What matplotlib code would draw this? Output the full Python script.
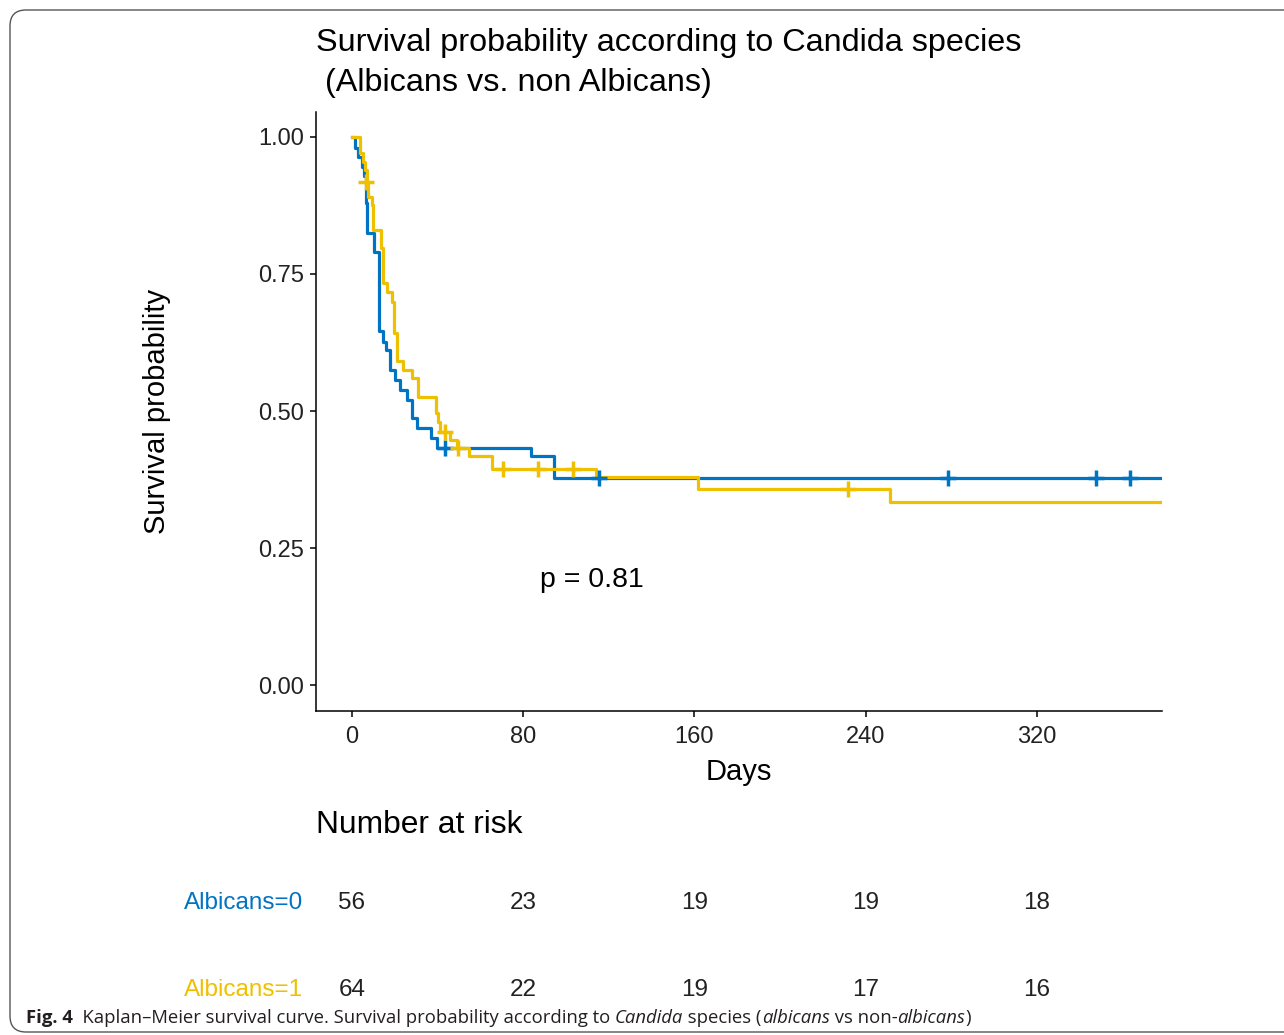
import matplotlib
matplotlib.use("Agg")
import matplotlib.pyplot as plt
import matplotlib.transforms as mtransforms
from matplotlib.patches import FancyBboxPatch
from matplotlib.text import Annotation

# Kaplan-Meier steps (days, survival)
alb0_times = [0, 1.5, 3, 4.5, 5.5, 6.5, 7, 10.3, 12.6, 14.3, 16, 18, 20, 22.4, 25.5,
              28.2, 30.4, 37, 39.5, 83.5, 94.5]
alb0_surv = [1.0, 0.98, 0.964, 0.946, 0.929, 0.88, 0.825, 0.79, 0.646, 0.626, 0.611,
             0.575, 0.557, 0.538, 0.52, 0.487, 0.469, 0.45, 0.432, 0.418, 0.377]
alb0_cens_t = [43.4, 115.5, 278.4, 347.6, 363.5]
alb0_cens_s = [0.432, 0.377, 0.377, 0.377, 0.377]

alb1_times = [0, 3.7, 5, 6, 6.9, 7.6, 9.2, 10, 13.4, 14.6, 16.2, 18.5, 19.8, 21.2, 23.7,
              27.9, 31, 39.1, 40, 41.3, 45.8, 49, 54.8, 65.3, 114, 161.7, 251.4]
alb1_surv = [1.0, 0.97, 0.955, 0.94, 0.918, 0.891, 0.876, 0.83, 0.797, 0.733, 0.718,
             0.699, 0.642, 0.592, 0.575, 0.56, 0.526, 0.496, 0.48, 0.462, 0.447, 0.432,
             0.417, 0.395, 0.38, 0.358, 0.334]
alb1_cens_t = [6.5, 43.4, 49.7, 70.7, 86.7, 103.4, 231.8]
alb1_cens_s = [0.918, 0.462, 0.432, 0.395, 0.395, 0.395, 0.358]

last_day = 378.4
risk_times = [0, 80, 160, 240, 320]
risk_alb0 = [56, 23, 19, 19, 18]
risk_alb1 = [64, 22, 19, 17, 16]

BLUE = "#0073C2"
YELLOW = "#EFC000"
INK = "#231f20"

plt.rcParams['font.family'] = ['Liberation Sans', 'DejaVu Sans']

W, H = 1284, 1035
fig = plt.figure(figsize=(W / 100, H / 100), dpi=100)


def fy(px):
    # figure fraction from a pixel row (text centred a touch lower than mpl does)
    return 1 - (px + 3) / H


# rounded frame of the journal figure, runs off the right edge
frame = FancyBboxPatch((10, 3), 1330, 1022, boxstyle="round,pad=0,rounding_size=16",
                       transform=None, fill=False, edgecolor="#555555", linewidth=1.0,
                       clip_on=False)
fig.add_artist(frame)

ax = fig.add_axes([316 / W, 1 - 711 / H, 846 / W, 599 / H])

ax.step(alb0_times + [last_day], alb0_surv + [alb0_surv[-1]], where='post', color=BLUE, lw=2.3)
ax.step(alb1_times + [last_day], alb1_surv + [alb1_surv[-1]], where='post', color=YELLOW, lw=2.3)
ax.plot(alb0_cens_t, alb0_cens_s, '+', color=BLUE, ms=12, mew=2.5)
ax.plot(alb1_cens_t, alb1_cens_s, '+', color=YELLOW, ms=12, mew=2.5)

ax.set_xlim(-16.8, last_day)
ax.set_ylim(-0.0474, 1.0456)
ax.set_xticks(risk_times)
ax.set_yticks([0, 0.25, 0.5, 0.75, 1.0])
ax.set_yticklabels(["0.00", "0.25", "0.50", "0.75", "1.00"])
for s in ["top", "right"]:
    ax.spines[s].set_visible(False)
for s in ["left", "bottom"]:
    ax.spines[s].set_linewidth(1.1)
ax.tick_params(axis='both', labelsize=17, length=4.5, width=1.1, labelcolor="#222222")
ax.tick_params(axis='x', pad=6)
ax.tick_params(axis='y', pad=4)

ax.text(87.8, 0.192, "p = 0.81", fontsize=20.5, va='center', ha='left')

fig.text(316 / W, fy(40), "Survival probability according to Candida species",
         fontsize=23.3, va='center', ha='left')
fig.text(316 / W, fy(80), " (Albicans vs. non Albicans)",
         fontsize=23.3, va='center', ha='left')

fig.text(157 / W, 1 - 411 / H, "Survival probability", rotation=90, fontsize=21,
         va='center', ha='center')
fig.text(739 / W, fy(769), "Days", fontsize=21, va='center', ha='center')

# number at risk table
fig.text(316 / W, fy(822), "Number at risk", fontsize=22.9, va='center', ha='left')
trans = mtransforms.blended_transform_factory(ax.transData, fig.transFigure)
rows = [("Albicans=0", risk_alb0, BLUE, 900), ("Albicans=1", risk_alb1, YELLOW, 987)]
for name, counts, col, ypx in rows:
    fig.text(303 / W, fy(ypx), name, color=col, fontsize=17.5, va='center', ha='right')
    for t, n in zip(risk_times, counts):
        fig.text(t, fy(ypx), str(n), transform=trans, fontsize=17.5,
                 va='center', ha='center', color="#222222")

# caption, chained so each piece starts where the previous one ended
pieces = [("  Kaplan\u2013Meier survival curve. Survival probability according to ", "normal"),
          ("Candida", "italic"),
          (" species (", "normal"),
          ("albicans", "italic"),
          (" vs non-", "normal"),
          ("albicans", "italic"),
          (")", "normal")]
cap_size = 13.3
cap_font = ["Open Sans", "Noto Sans", "DejaVu Sans"]
prev = fig.text(26 / W, 1 - 1027 / H, "Fig. 4", fontsize=cap_size, fontweight="bold",
                family=cap_font, va='bottom', ha='left', color=INK)
for txt, sty in pieces:
    prev = fig.add_artist(Annotation(txt, xy=(1, 0), xycoords=prev, va='bottom', ha='left',
                                     fontsize=cap_size, style=sty, family=cap_font,
                                     color=INK))

fig.savefig("out.png", dpi=100)
